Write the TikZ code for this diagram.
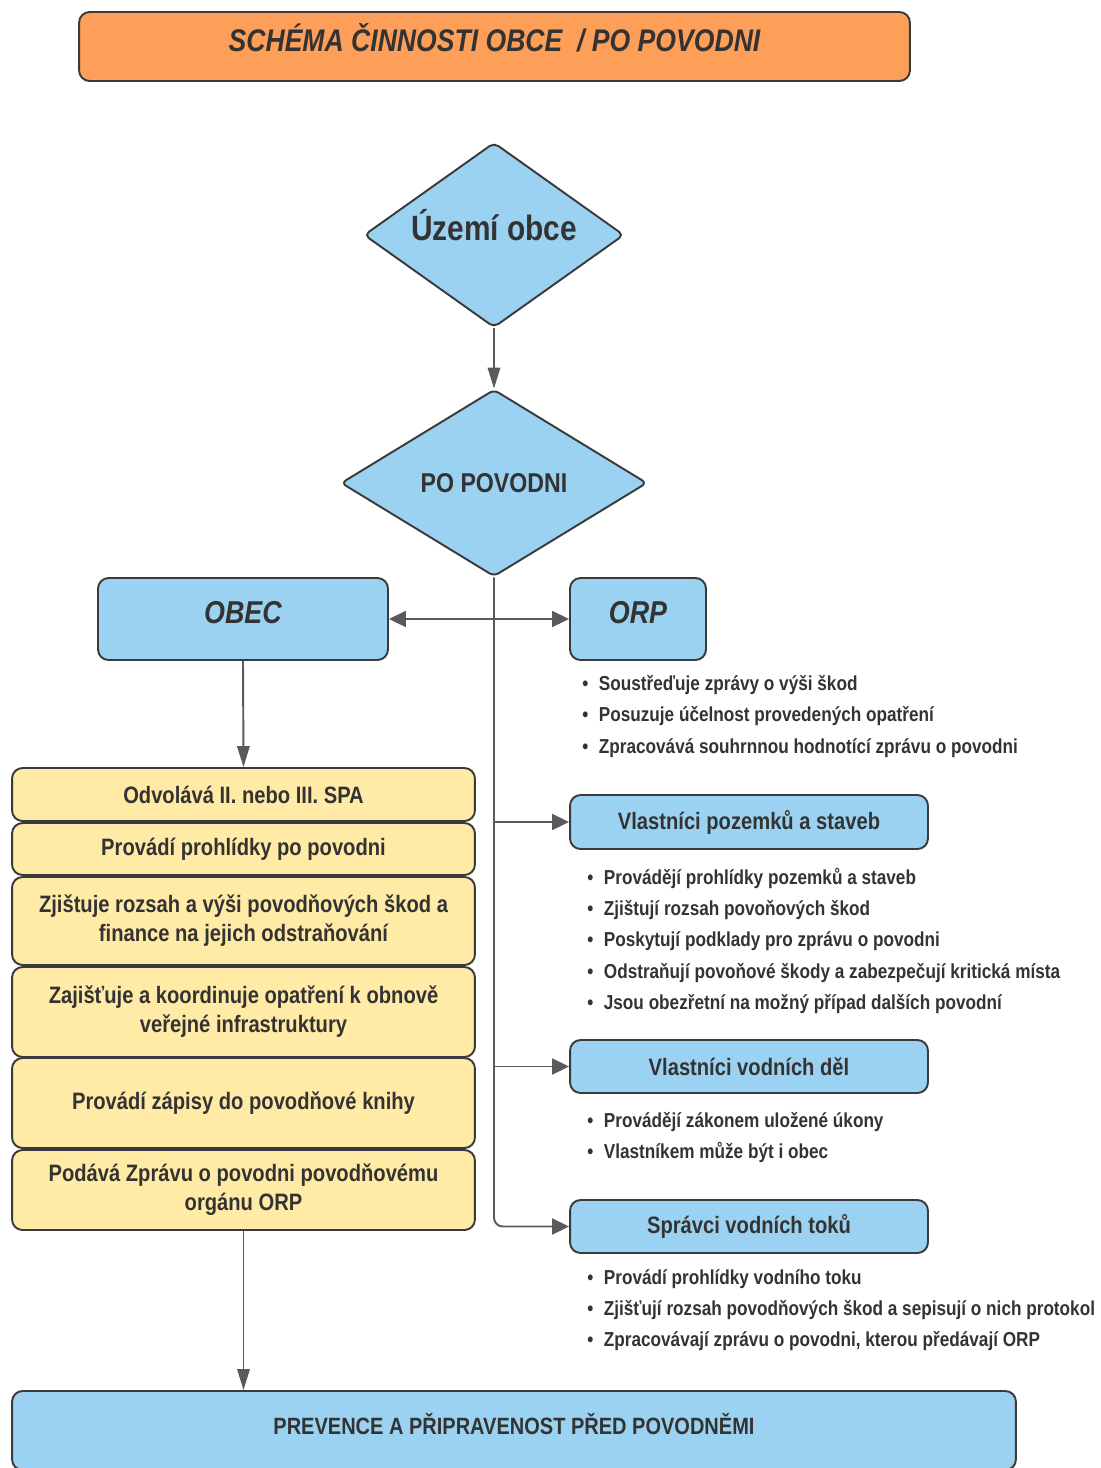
\documentclass[tikz,border=0pt]{standalone}
\usepackage{fontspec}
\setmainfont{Liberation Sans}[FakeStretch=0.85]
\usepackage{tikz}
\usetikzlibrary{shapes.geometric, arrows.meta, positioning, calc}
\definecolor{titleorange}{HTML}{FD9F58}
\definecolor{skyblue}{HTML}{9CD2F1}
\definecolor{paleyellow}{HTML}{FFEAA6}
\definecolor{edgegray}{HTML}{3A3A3A}
\definecolor{linegray}{HTML}{5A5A5A}
\definecolor{textdark}{HTML}{333333}
\tikzset{
  vconn/.style={-{Triangle[length=0.42cm, width=0.25cm]}, line width=1.1pt, linegray},
  hconn/.style={-{Triangle[length=0.34cm, width=0.32cm]}, line width=1.1pt, linegray},
  bluebox/.style={rectangle, rounded corners=6pt, draw=edgegray, fill=skyblue, line width=1.1pt, align=center, text=textdark, inner sep=0pt},
  capcentre/.style={text height=0.72em, text depth=#1},
  capcentre/.default=0.25em,
  stackbox/.style={rectangle, rounded corners=6pt, draw=edgegray, fill=paleyellow, line width=1.1pt, align=center, text=textdark, inner sep=0pt, minimum width=9.26cm, font=\fontsize{13.5}{16.5}\selectfont\bfseries},
  decision/.style={diamond, aspect=1.4, rounded corners=3pt, draw=edgegray, fill=skyblue, line width=1.1pt, text=textdark, inner sep=0pt},
  bullettext/.style={anchor=west, text=textdark, inner sep=0pt, text height=1.6ex, text depth=0.45ex, font=\fontsize{11.5}{14}\selectfont\bfseries},
}
\newcommand{\bul}{\textbullet\hspace{6pt}}

\begin{document}
\begin{tikzpicture}[x=0.02cm, y=-0.02cm]
  \useasboundingbox (0,0) rectangle (1101,1468);

  % Title
  \node[rectangle, rounded corners=6pt, draw=edgegray, fill=titleorange, line width=1.1pt, text=textdark, capcentre=0.2em,
        minimum width=16.62cm, minimum height=1.38cm, font=\fontsize{17.8}{20}\selectfont\bfseries\itshape] (title) at (494.5,46.5)
        {SCHÉMA ČINNOSTI OBCE~ / PO POVODNI};

  % Decisions
  \node[decision, capcentre=0.05em, minimum width=5.2cm, minimum height=3.7cm, font=\fontsize{20}{22}\selectfont\bfseries] (uzemi) at (494,235) {Území obce};
  \node[decision, minimum width=6.12cm, minimum height=3.74cm, font=\fontsize{15.5}{18}\selectfont\bfseries] (popov) at (494,483) {PO POVODNI};
  \draw[vconn] (uzemi.south) -- (popov.north);

  % Actors
  \node[bluebox, capcentre, minimum width=5.8cm, minimum height=1.64cm, font=\fontsize{18}{20}\selectfont\bfseries\itshape] (obec) at (243,619) {OBEC};
  \node[bluebox, capcentre, minimum width=2.72cm, minimum height=1.64cm, font=\fontsize{18}{20}\selectfont\bfseries\itshape] (orp) at (638,619) {ORP};
  \node[bluebox, minimum width=7.16cm, minimum height=1.08cm, font=\fontsize{13.5}{16}\selectfont\bfseries] (pozemky) at (749,822) {Vlastníci pozemků a staveb};
  \node[bluebox, minimum width=7.16cm, minimum height=1.06cm, font=\fontsize{13.5}{16}\selectfont\bfseries] (vodnidila) at (749,1066.5) {Vlastníci vodních děl};
  \node[bluebox, minimum width=7.16cm, minimum height=1.06cm, font=\fontsize{13.5}{16}\selectfont\bfseries] (spravci) at (749,1226.5) {Správci vodních toků};

  % Trunk and branches
  \coordinate (split) at (popov.south |- obec.east);
  \draw[hconn] (split) -- (obec.east);
  \draw[hconn] (split) -- (orp.west);
  \draw[hconn] (popov.south |- pozemky.west) -- (pozemky.west);
  \draw[hconn] (popov.south |- vodnidila.west) -- (vodnidila.west);
  \draw[hconn, rounded corners=5pt] (popov.south) |- (spravci.west);

  % Obec stack
  \foreach \i/\y/\h/\txt in {
      1/794.5/1.06/{Odvolává II. nebo III. SPA},
      2/849/1.04/{Provádí prohlídky po povodni},
      3/921/1.76/{Zjištuje rozsah a výši povodňových škod a\\finance na jejich odstraňování},
      4/1012/1.80/{Zajišťuje a koordinuje opatření k obnově\\veřejné infrastruktury},
      5/1103/1.80/{Provádí zápisy do povodňové knihy},
      6/1190/1.60/{Podává Zprávu o povodni povodňovému\\orgánu ORP}} {
    \node[stackbox, minimum height=\h cm] (s\i) at (243.5,\y) {\txt};
  }
  \draw[vconn] (obec.south) -- (s1.north);

  % Bottom
  \node[bluebox, capcentre, minimum width=20.08cm, minimum height=1.58cm, font=\fontsize{13.4}{15}\selectfont\bfseries] (prevence) at (514,1430.5)
        {PREVENCE A PŘIPRAVENOST PŘED POVODNĚMI};
  \draw[vconn] (s6.south) -- (s6.south |- prevence.north);

  % Bullet lists
  \foreach \txt [count=\i] in {Soustřeďuje zprávy o výši škod, Posuzuje účelnost provedených opatření,
      Zpracovává souhrnnou hodnotící zprávu o povodni} {
    \node[bullettext] (orpb\i) at (582,{685+31.5*(\i-1)}) {\bul\txt};
  }
  \foreach \txt [count=\i] in {Provádějí prohlídky pozemků a staveb, Zjištují rozsah povoňových škod,
      Poskytují podklady pro zprávu o povodni, Odstraňují povoňové škody a zabezpečují kritická místa,
      Jsou obezřetní na možný případ dalších povodní} {
    \node[bullettext] (pozb\i) at (587,{879+31.3*(\i-1)}) {\bul\txt};
  }
  \foreach \txt [count=\i] in {Provádějí zákonem uložené úkony, Vlastníkem může být i obec} {
    \node[bullettext] (vdb\i) at (587,{1122+31*(\i-1)}) {\bul\txt};
  }
  \foreach \txt [count=\i] in {Provádí prohlídky vodního toku, Zjišťují rozsah povodňových škod a sepisují o nich protokol,
      {Zpracovávají zprávu o povodni, kterou předávají ORP}} {
    \node[bullettext] (svtb\i) at (587,{1279+31*(\i-1)}) {\bul\txt};
  }
\end{tikzpicture}
\end{document}
